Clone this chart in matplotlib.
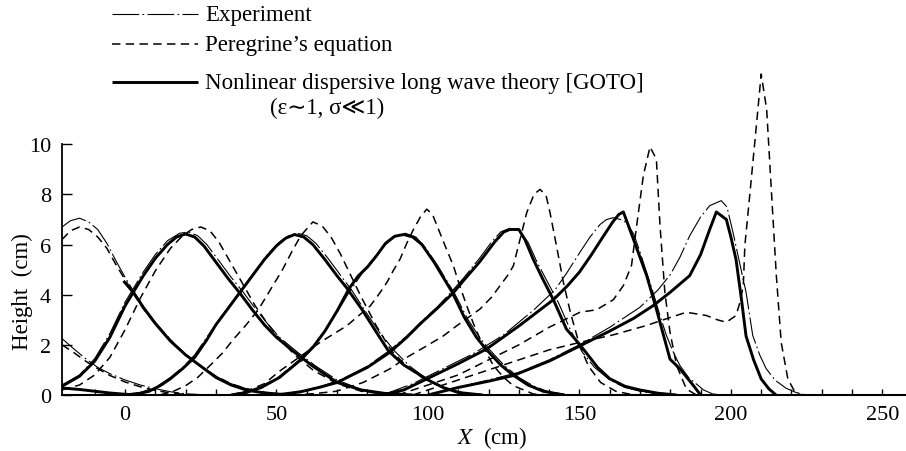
import matplotlib
matplotlib.use("Agg")
import matplotlib.pyplot as plt
from matplotlib.lines import Line2D

plt.rcParams['font.family'] = ['Liberation Serif', 'DejaVu Sans', 'Noto Sans CJK JP']
plt.rcParams['mathtext.fontset'] = 'stix'

# ---------------- data ----------------
# tail of an earlier wave (left edge)
exp_m1_x = [-20.8, -17, -13, -9, -5, 0, 5, 10, 15, 20, 27]
exp_m1_y = [2.25, 1.85, 1.45, 1.1, 0.85, 0.6, 0.4, 0.25, 0.13, 0.05, 0.0]
per_m1_x = [-20.8, -17, -13, -9, -5, 0, 5, 10, 15, 22]
per_m1_y = [2.0, 1.7, 1.35, 1.05, 0.78, 0.52, 0.33, 0.18, 0.08, 0.0]
goto_m1_x = [-20.8, -15, -10, -5, 0, 5]
goto_m1_y = [0.28, 0.22, 0.15, 0.08, 0.03, 0.0]

# snapshot 0 (crest near X=-15)
exp0_x = [-20.8, -18, -15, -12, -9, -6, -3, 0, 3, 6, 10, 15, 20, 25, 30, 35, 40, 46, 52, 60]
exp0_y = [6.7, 6.95, 7.05, 6.9, 6.6, 6.05, 5.35, 4.7, 4.1, 3.55, 2.9, 2.2, 1.6, 1.15, 0.75, 0.45, 0.25, 0.1, 0.03, 0.0]
per0_x = [-20.8, -18, -15, -12, -9, -6, -3, 0, 3, 6, 10, 15, 20, 25, 30, 35, 40, 46, 52, 60]
per0_y = [6.2, 6.55, 6.7, 6.6, 6.3, 5.85, 5.2, 4.6, 4.0, 3.45, 2.85, 2.2, 1.6, 1.15, 0.75, 0.45, 0.25, 0.1, 0.03, 0.0]
goto0_x = [-0.5, 3, 6, 10, 15, 20, 25, 30, 35, 40, 45, 50, 56]
goto0_y = [4.55, 4.05, 3.5, 2.85, 2.15, 1.6, 1.15, 0.7, 0.4, 0.2, 0.1, 0.04, 0.0]

# snapshot 1 (crest near X=20)
exp1_x = [-20.8, -15, -10, -5, 0, 3, 6, 10, 14, 18, 21, 24, 27, 31, 35, 39, 43, 47, 51, 57, 63, 70, 78, 86, 95]
exp1_y = [0.4, 0.8, 1.45, 2.45, 3.7, 4.3, 4.9, 5.6, 6.15, 6.45, 6.5, 6.35, 6.0, 5.35, 4.7, 4.1, 3.45, 2.85, 2.3, 1.7, 1.15, 0.6, 0.22, 0.06, 0.0]
per1_x = [-20.8, -15, -10, -5, 0, 5, 10, 15, 19, 22, 25, 28, 31, 35, 39, 43, 47, 51, 56, 62, 70, 78, 88]
per1_y = [0.2, 0.4, 0.8, 1.5, 2.6, 3.85, 4.95, 5.85, 6.35, 6.6, 6.7, 6.55, 6.1, 5.25, 4.4, 3.55, 2.85, 2.25, 1.6, 1.0, 0.45, 0.15, 0.0]
goto1_x = [-20.8, -15, -10, -5, 0, 3, 6, 10, 14, 17, 20, 23, 26, 30, 34, 38, 42, 46, 50, 56, 62, 70, 78, 86, 95]
goto1_y = [0.35, 0.75, 1.35, 2.3, 3.55, 4.15, 4.75, 5.45, 6.0, 6.3, 6.42, 6.3, 5.95, 5.3, 4.65, 4.05, 3.4, 2.8, 2.3, 1.7, 1.15, 0.5, 0.2, 0.06, 0.0]

# snapshot 2 (crest near X=56)
exp2_x = [0, 5, 10, 15, 19, 23, 27, 31, 35, 39, 43, 47, 51, 54, 57, 60, 63, 67, 71, 75, 79, 84, 89, 94, 100, 106, 112, 120]
exp2_y = [0.0, 0.1, 0.3, 0.7, 1.1, 1.6, 2.3, 3.0, 3.65, 4.3, 4.95, 5.6, 6.1, 6.35, 6.45, 6.35, 6.05, 5.45, 4.8, 4.15, 3.4, 2.5, 1.75, 1.15, 0.6, 0.25, 0.08, 0.0]
per2_x = [11.5, 16, 20, 24, 28, 32, 36, 40, 44, 48, 52, 55, 58, 62, 65, 68, 71, 74, 78, 83, 88, 93, 98, 106, 115]
per2_y = [0.0, 0.15, 0.37, 0.7, 1.17, 1.65, 2.25, 2.8, 3.4, 4.2, 5.0, 5.7, 6.35, 6.9, 6.75, 6.3, 5.65, 4.9, 3.9, 2.75, 1.75, 1.15, 0.7, 0.22, 0.0]
goto2_x = [0, 5, 8, 12, 15, 19, 23, 27, 30, 34, 38, 42, 46, 50, 53, 56, 59, 62, 66, 70, 73, 78, 83, 87, 92, 100, 105, 110, 118]
goto2_y = [0.0, 0.07, 0.15, 0.4, 0.65, 1.05, 1.5, 2.2, 2.8, 3.45, 4.1, 4.75, 5.4, 5.95, 6.25, 6.4, 6.3, 6.0, 5.4, 4.75, 4.3, 3.45, 2.5, 1.75, 1.2, 0.6, 0.3, 0.1, 0.0]

# snapshot 3 (crest near X=92)
exp3_x = [35, 42, 50, 58, 64, 70, 74, 78, 82, 86, 89, 92.5, 96, 99, 103, 106, 109, 113, 117, 120, 125, 130, 135, 140, 147]
exp3_y = [0.0, 0.2, 0.65, 1.45, 2.2, 3.3, 4.1, 4.8, 5.45, 6.0, 6.3, 6.45, 6.3, 5.9, 5.2, 4.6, 4.0, 3.05, 2.3, 1.85, 1.2, 0.7, 0.35, 0.12, 0.0]
per3_x = [35, 40, 46, 51, 58, 64.4, 73.2, 81, 84, 86.5, 88.5, 90.8, 93, 95.2, 97.5, 99.6, 101.5, 103.9, 106, 108.4, 110.5, 112.8, 115, 117.2, 119.5, 121.6, 125, 128.2, 134.8, 140]
per3_y = [0.0, 0.15, 0.45, 0.95, 1.55, 2.1, 2.76, 3.56, 4.05, 4.5, 4.95, 5.42, 6.05, 6.6, 7.1, 7.41, 7.2, 6.48, 5.85, 5.15, 4.35, 3.56, 2.85, 2.23, 1.65, 1.17, 0.7, 0.37, 0.04, 0.0]
goto3_x = [35, 40, 45, 51, 58, 62, 66, 70, 74, 77, 80, 83, 86, 89, 92, 95, 98, 102, 105, 108, 112, 116, 119, 124, 128, 133, 138, 145]
goto3_y = [0.0, 0.1, 0.3, 0.7, 1.4, 1.9, 2.55, 3.35, 4.25, 4.75, 5.1, 5.55, 6.05, 6.33, 6.4, 6.3, 6.0, 5.3, 4.7, 4.1, 3.1, 2.3, 1.85, 1.2, 0.8, 0.4, 0.15, 0.0]

# snapshot 4 (crest near X=128)
exp4_x = [50, 58, 65, 72, 80, 87, 93, 98, 103, 108, 112, 117, 121, 124, 127, 130, 133, 136, 139.5, 143, 147, 151, 155, 160, 165, 171, 180]
exp4_y = [0.0, 0.15, 0.35, 0.65, 1.15, 1.75, 2.35, 2.95, 3.5, 4.15, 4.7, 5.45, 6.1, 6.5, 6.65, 6.55, 6.1, 5.3, 4.5, 3.7, 2.6, 1.7, 1.1, 0.6, 0.3, 0.12, 0.0]
per4_x = [55, 62, 69.8, 78.6, 87.4, 93, 99.6, 105, 109.5, 114, 117.2, 121, 123.8, 126.5, 128.2, 130.4, 132.6, 135, 137, 139, 140.3, 142.5, 144.7, 147, 150, 153, 157, 162, 168]
per4_y = [0.0, 0.05, 0.15, 0.5, 1.04, 1.5, 1.96, 2.35, 2.76, 3.15, 3.43, 3.9, 4.36, 4.8, 5.15, 6.21, 7.27, 8.0, 8.2, 7.95, 7.27, 5.9, 4.5, 3.3, 2.0, 1.15, 0.5, 0.15, 0.0]
goto4_x = [50, 58, 64, 70, 75, 80, 87.4, 93, 98, 103, 108.4, 112, 117, 122, 125, 127, 130, 132, 134.8, 138, 141.4, 145.7, 150.2, 156, 160, 165, 170, 176, 182]
goto4_y = [0.0, 0.13, 0.3, 0.5, 0.8, 1.1, 1.7, 2.3, 2.9, 3.45, 4.08, 4.6, 5.3, 6.1, 6.5, 6.6, 6.6, 6.2, 5.4, 4.6, 3.8, 2.63, 2.0, 1.1, 0.65, 0.35, 0.2, 0.07, 0.0]

# snapshot 5 (crest near X=165)
exp5_x = [85, 95, 105, 115, 125, 135, 142, 146, 150.2, 153.5, 156.8, 159, 161.2, 163.5, 165.6, 168, 170, 172, 174.3, 176.5, 178.7, 181, 183.2, 186, 188.6, 191, 194, 197]
exp5_y = [0.0, 0.45, 1.05, 1.65, 2.4, 3.4, 4.2, 4.9, 5.7, 6.3, 6.8, 7.0, 7.07, 7.0, 6.87, 6.4, 5.7, 4.95, 4.1, 3.2, 2.38, 1.7, 1.17, 0.7, 0.44, 0.2, 0.04, 0.0]
per5_x = [90, 100, 110, 120, 130, 140, 150.2, 155.7, 161.2, 164.5, 167.2, 168.9, 171.1, 173.3, 175.4, 176.6, 178.2, 179.9, 182.1, 185.3, 188.6]
per5_y = [0.0, 0.4, 0.8, 1.4, 2.0, 2.7, 3.3, 3.4, 3.8, 4.36, 5.17, 6.76, 8.75, 9.9, 9.4, 6.76, 4.1, 2.5, 1.17, 0.24, 0.0]
goto5_x = [85, 92, 99.6, 110, 119.3, 130, 141.4, 146, 150, 154, 158, 161, 163, 164.5, 167.8, 172.2, 175.4, 179.9, 183.2, 187.6, 190]
goto5_y = [0.0, 0.2, 0.64, 1.25, 1.83, 2.75, 3.8, 4.35, 4.9, 5.6, 6.35, 6.9, 7.2, 7.3, 6.22, 4.76, 3.43, 1.43, 1.04, 0.38, 0.0]

# snapshot 6 (crest near X=196)
exp6_x = [100, 110, 120, 130, 140, 150, 160, 170, 176, 180, 183.2, 186.4, 190, 193, 196.8, 198.7, 200.7, 203, 205, 207.2, 209.5, 211.6, 214.5, 218.2, 221.5, 224.8]
exp6_y = [0.0, 0.3, 0.6, 0.9, 1.4, 2.0, 2.7, 3.5, 4.2, 4.8, 5.5, 6.35, 7.1, 7.55, 7.75, 7.5, 6.48, 5.2, 4.1, 2.38, 1.6, 1.06, 0.6, 0.27, 0.1, 0.0]
per6_x = [95, 110, 125, 140, 150.2, 161.2, 172.1, 178.7, 185.3, 191.9, 195.5, 198.5, 201.7, 203, 204.1, 204.6, 206.3, 208.4, 210, 211.8, 213.4, 215, 216.6, 218.8, 221.5, 224]
per6_y = [0.0, 0.6, 1.2, 1.8, 2.1, 2.4, 2.77, 3.04, 3.3, 3.17, 3.0, 2.9, 3.17, 3.7, 4.36, 5.95, 8.07, 10.73, 12.8, 11.4, 8.07, 4.76, 2.1, 0.64, 0.04, 0.0]
goto6_x = [100, 110, 120, 128, 140, 150.2, 160, 167.8, 174.3, 180, 186.4, 190, 193, 195.2, 198.5, 200, 201.7, 203.5, 205, 207.5, 210, 212.5, 214.9]
goto6_y = [0.0, 0.3, 0.55, 0.77, 1.35, 1.96, 2.55, 3.05, 3.56, 4.1, 4.76, 5.6, 6.6, 7.3, 7.0, 6.3, 5.4, 3.8, 2.35, 1.4, 0.64, 0.25, 0.0]

x_ticks = [0, 50, 100, 150, 200, 250]
y_ticks = [0, 2, 4, 6, 8, 10]
legend_labels = ["Experiment", "Peregrine\u2019s equation",
                 "Nonlinear dispersive long wave theory [GOTO]"]
legend_note = "(\u03b5\u223c1, \u03c3\u226a1)"

exp_curves = [(exp_m1_x, exp_m1_y), (exp0_x, exp0_y), (exp1_x, exp1_y), (exp2_x, exp2_y),
              (exp3_x, exp3_y), (exp4_x, exp4_y), (exp5_x, exp5_y), (exp6_x, exp6_y)]
per_curves = [(per_m1_x, per_m1_y), (per0_x, per0_y), (per1_x, per1_y), (per2_x, per2_y),
              (per3_x, per3_y), (per4_x, per4_y), (per5_x, per5_y), (per6_x, per6_y)]
goto_curves = [(goto_m1_x, goto_m1_y), (goto0_x, goto0_y), (goto1_x, goto1_y), (goto2_x, goto2_y),
               (goto3_x, goto3_y), (goto4_x, goto4_y), (goto5_x, goto5_y), (goto6_x, goto6_y)]

# ---------------- styles ----------------
EXP_STYLE = dict(color='black', lw=0.8, linestyle=(0, (24, 3, 1.5, 3)))
PER_STYLE = dict(color='black', lw=1.1, linestyle=(0, (5.5, 3.5)))
GOTO_STYLE = dict(color='black', lw=2.1, linestyle='-', solid_capstyle='butt')

FS = 16.5
fig = plt.figure(figsize=(9.06, 4.52), dpi=100)
ax = fig.add_axes([62 / 906, 56 / 452, 844 / 906, 326 / 452])

for xs, ys in goto_curves:
    ax.plot(xs, ys, **GOTO_STYLE)
for xs, ys in per_curves:
    ax.plot(xs, ys, **PER_STYLE)
for xs, ys in exp_curves:
    ax.plot(xs, ys, **EXP_STYLE)

ax.set_xlim(-20.8, 257.8)
ax.set_ylim(0, 13)
ax.spines['top'].set_visible(False)
ax.spines['right'].set_visible(False)
ax.spines['left'].set_bounds(0, 10)
ax.spines['left'].set_linewidth(1.3)
ax.spines['bottom'].set_linewidth(1.5)
ax.set_xticks(x_ticks)
ax.set_xticks(range(-10, 258, 10), minor=True)
ax.set_yticks(y_ticks)
ax.tick_params(axis='x', which='both', direction='in', length=4, width=1, labelsize=16, pad=7)
ax.tick_params(axis='y', which='major', direction='in', length=7, width=1, labelsize=16, pad=8)
ax.patch.set_visible(False)

fig.text(22 / 906, 1 - 292 / 452, "Height\u2002(cm)", rotation=90, ha='center', va='center', fontsize=FS)
fig.text(492 / 906, 1 - 438 / 452, "$X$\u2002(cm)", ha='center', va='center', fontsize=FS)

# legend drawn manually at the top
rows_y = [15, 45, 83]
styles = [EXP_STYLE, PER_STYLE, GOTO_STYLE]
for yy, st, lab in zip(rows_y, styles, legend_labels):
    fy = 1 - yy / 452
    fig.add_artist(Line2D([112 / 906, 198 / 906], [fy, fy], transform=fig.transFigure, **st))
    fig.text(205 / 906, fy, lab, ha='left', va='center', fontsize=FS)
fig.text(270 / 906, 1 - 108 / 452, legend_note, ha='left', va='center', fontsize=FS)

fig.savefig("out.png", dpi=100)
